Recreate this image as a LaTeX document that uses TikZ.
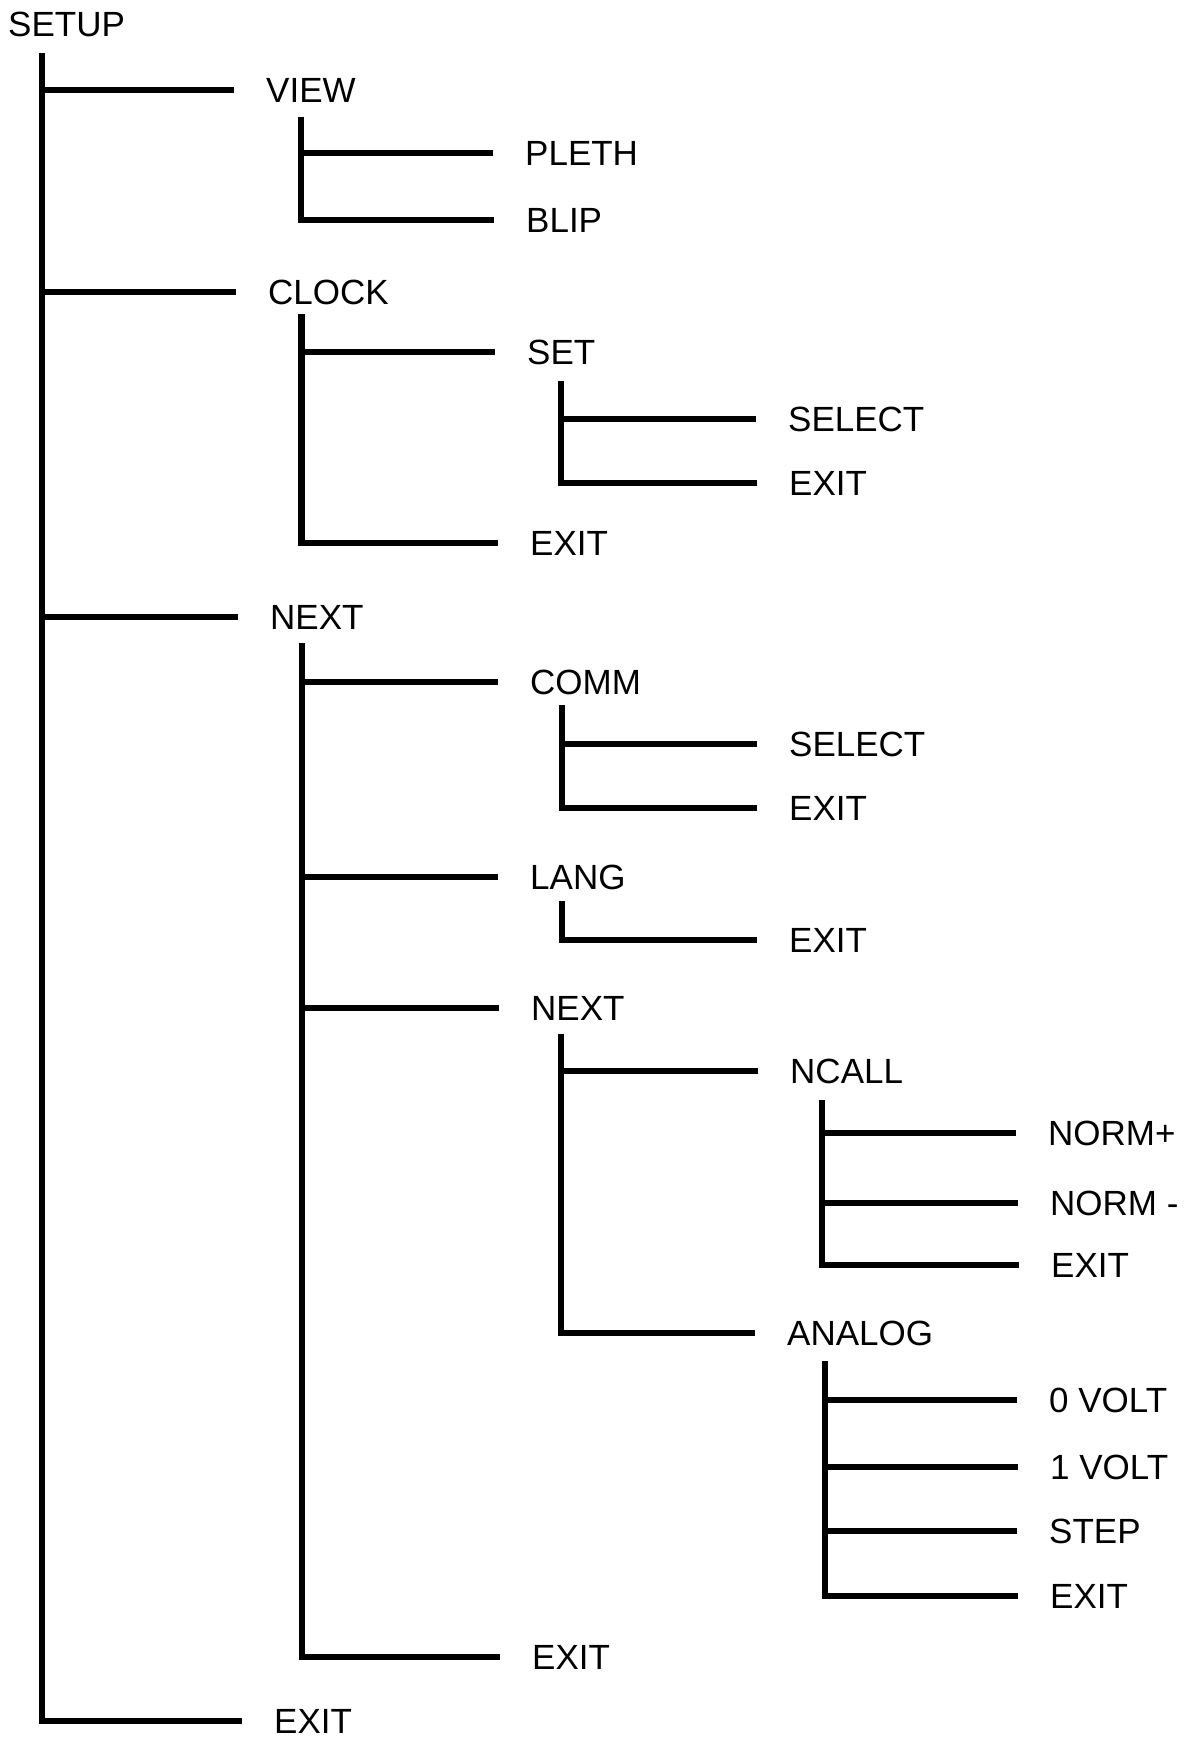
\documentclass[tikz,border=0pt]{standalone}
\usepackage{fontspec}
\setmainfont{Liberation Sans}
\begin{document}
\begin{tikzpicture}[x=1pt,y=-1pt,
  lab/.style={anchor=west, inner sep=0pt, font=\fontsize{35}{42}\selectfont, text height=25pt, text depth=0pt},
  tree/.style={line width=6.5pt, line join=miter, line cap=butt, black}]
\useasboundingbox (0,0) rectangle (1203,1737);
% labels
\node[lab] (setup) at (8,24) {SETUP};
\node[lab] (view) at (266,90) {VIEW};
\node[lab] (pleth) at (525,153) {PLETH};
\node[lab] (blip) at (526,220) {BLIP};
\node[lab] (clock) at (268,292) {CLOCK};
\node[lab] (set) at (527,352) {SET};
\node[lab] (selA) at (788,419) {SELECT};
\node[lab] (exitA) at (789,483) {EXIT};
\node[lab] (exitB) at (530,543) {EXIT};
\node[lab] (next) at (270,617) {NEXT};
\node[lab] (comm) at (530,682) {COMM};
\node[lab] (selB) at (789,744) {SELECT};
\node[lab] (exitC) at (789,808) {EXIT};
\node[lab] (lang) at (530,877) {LANG};
\node[lab] (exitD) at (789,940) {EXIT};
\node[lab] (nextB) at (531,1008) {NEXT};
\node[lab] (ncall) at (790,1071) {NCALL};
\node[lab] (normp) at (1048,1133) {NORM+};
\node[lab] (normm) at (1050,1203) {NORM -};
\node[lab] (exitE) at (1051,1265) {EXIT};
\node[lab] (analog) at (787,1333) {ANALOG};
\node[lab] (volt0) at (1049,1400) {0 VOLT};
\node[lab] (volt1) at (1050,1467) {1 VOLT};
\node[lab] (step) at (1049,1531) {STEP};
\node[lab] (exitF) at (1050,1596) {EXIT};
\node[lab] (exitG) at (532,1657) {EXIT};
\node[lab] (exitH) at (274,1721) {EXIT};
% spine tops
\coordinate (s0) at (42,53);
\coordinate (sview) at (301,117);
\coordinate (sclock) at (301.5,314);
\coordinate (sset) at (561,381);
\coordinate (snext) at (302,643);
\coordinate (scomm) at (562,705);
\coordinate (slang) at (562,901);
\coordinate (snextB) at (561,1034);
\coordinate (sncall) at (822,1100);
\coordinate (sanalog) at (825,1361);
% connectors: last child with spine, others as branches
\draw[tree] (s0) |- ([xshift=-32pt]exitH.west);
\foreach \c in {view,clock,next} \draw[tree] (s0 |- \c.west) -- ([xshift=-32pt]\c.west);
\draw[tree] (sview) |- ([xshift=-32pt]blip.west);
\draw[tree] (sview |- pleth.west) -- ([xshift=-32pt]pleth.west);
\draw[tree] (sclock) |- ([xshift=-32pt]exitB.west);
\draw[tree] (sclock |- set.west) -- ([xshift=-32pt]set.west);
\draw[tree] (sset) |- ([xshift=-32pt]exitA.west);
\draw[tree] (sset |- selA.west) -- ([xshift=-32pt]selA.west);
\draw[tree] (snext) |- ([xshift=-32pt]exitG.west);
\foreach \c in {comm,lang,nextB} \draw[tree] (snext |- \c.west) -- ([xshift=-32pt]\c.west);
\draw[tree] (scomm) |- ([xshift=-32pt]exitC.west);
\draw[tree] (scomm |- selB.west) -- ([xshift=-32pt]selB.west);
\draw[tree] (slang) |- ([xshift=-32pt]exitD.west);
\draw[tree] (snextB) |- ([xshift=-32pt]analog.west);
\draw[tree] (snextB |- ncall.west) -- ([xshift=-32pt]ncall.west);
\draw[tree] (sncall) |- ([xshift=-32pt]exitE.west);
\foreach \c in {normp,normm} \draw[tree] (sncall |- \c.west) -- ([xshift=-32pt]\c.west);
\draw[tree] (sanalog) |- ([xshift=-32pt]exitF.west);
\foreach \c in {volt0,volt1,step} \draw[tree] (sanalog |- \c.west) -- ([xshift=-32pt]\c.west);
\end{tikzpicture}
\end{document}
